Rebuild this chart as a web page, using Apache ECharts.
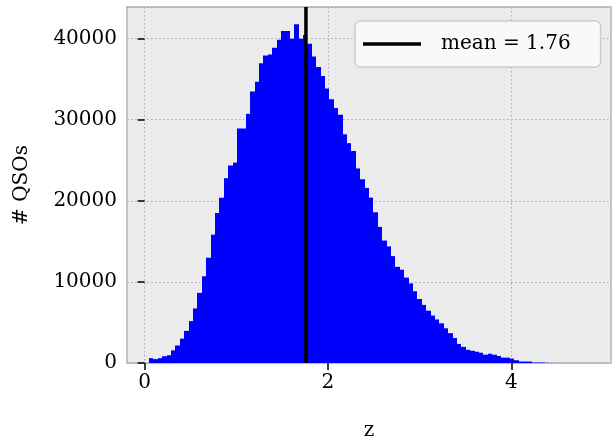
<!DOCTYPE html>
<html>
<head>
<meta charset="utf-8">
<script src="https://cdn.jsdelivr.net/npm/echarts@6/dist/echarts.min.js"></script>
<style>
  html, body { margin: 0; padding: 0; background: #ffffff; }
  #chart { width: 616px; height: 446px; }
</style>
</head>
<body>
<div id="chart"></div>
<script>
// histogram of redshift, 100 bins
const binStart = 0.048;
const binWidth = 0.048;
const counts = [
  600, 480, 600, 840, 960, 1560, 2160, 3000, 3960, 5170,
  6730, 8650, 10690, 12980, 15820, 18500, 20390, 22790, 24350, 24710,
  28920, 28920, 30720, 33480, 34680, 36970, 37930, 38050, 38890, 39850,
  40930, 40930, 39970, 41770, 39970, 40450, 39370, 37810, 36490, 35400,
  33840, 32520, 31440, 30600, 28200, 27110, 26150, 23990, 22670, 21590,
  20390, 18580, 16780, 15100, 14380, 13180, 11860, 11500, 10530, 9810,
  8850, 7890, 7170, 6450, 5850, 5370, 4890, 4280, 3680, 3075,
  2350, 1990, 1630, 1510, 1390, 1270, 1025, 1145, 1025, 865,
  660, 660, 540, 340, 180, 180, 180, 60, 60, 60,
  15, 10, 6, 4, 3, 2, 1, 1, 1, 1
];
const meanZ = 1.76;
const xTicks = [0, 2, 4];
const yMax = 43900;

const font = "DejaVu Serif";

const bins = counts.map((c, i) => [binStart + i * binWidth, binStart + (i + 1) * binWidth, c]);

const myChart = echarts.init(document.getElementById("chart"));

const option = {
  animation: false,
  grid: {
    left: 127,
    right: 5,
    top: 7,
    bottom: 75,
    show: true,
    backgroundColor: "#ebebeb",
    borderColor: "#c4c4c4",
    borderWidth: 2,
  },
  legend: {
    data: [{ name: "mean = " + meanZ.toFixed(2), icon: "rect" }],
    left: 355,
    top: 21,
    orient: "vertical",
    itemWidth: 58,
    itemHeight: 3.5,
    padding: [13, 30, 13, 8],
    backgroundColor: "rgba(250,250,250,0.92)",
    borderColor: "#cccccc",
    borderWidth: 1.5,
    borderRadius: 5,
    textStyle: {
      fontFamily: font,
      fontSize: 20,
      color: "#000",
      padding: [0, 0, 0, 15],
    },
  },
  xAxis: {
    type: "value",
    min: -0.192,
    max: 5.088,
    name: "z",
    nameLocation: "middle",
    nameGap: 58,
    nameTextStyle: { fontFamily: font, fontSize: 20, color: "#000" },
    axisLine: { show: false },
    axisTick: {
      customValues: xTicks,
      length: 7,
      lineStyle: { color: "#000", width: 1.5 },
    },
    axisLabel: {
      customValues: xTicks,
      margin: 10,
      fontFamily: font,
      fontSize: 20,
      color: "#000",
    },
    splitLine: {
      show: true,
      lineStyle: { color: "#a8a8a8", type: [1.5, 2.5], width: 1 },
    },
  },
  yAxis: {
    type: "value",
    min: 0,
    max: yMax,
    interval: 10000,
    name: "# QSOs",
    nameLocation: "middle",
    nameGap: 95,
    nameTextStyle: { fontFamily: font, fontSize: 20, color: "#000" },
    axisLine: { show: false },
    axisTick: {
      show: true,
      length: 7,
      lineStyle: { color: "#000", width: 1.5 },
    },
    axisLabel: {
      margin: 10,
      fontFamily: font,
      fontSize: 20,
      color: "#000",
      showMaxLabel: false,
      formatter: (v) => String(v),
    },
    splitLine: {
      show: true,
      lineStyle: { color: "#a8a8a8", type: [1.5, 2.5], width: 1 },
    },
  },
  series: [
    {
      name: "z",
      type: "custom",
      clip: true,
      encode: { x: [0, 1], y: 2 },
      data: bins,
      renderItem: function (params, api) {
        const top = api.coord([api.value(0), api.value(2)]);
        const bottom = api.coord([api.value(1), 0]);
        // snap x to whole pixels so neighbouring bars meet without seams
        const x0 = Math.round(top[0]);
        const x1 = Math.round(bottom[0]);
        return {
          type: "rect",
          shape: { x: x0, y: top[1], width: x1 - x0, height: bottom[1] - top[1] },
          style: { fill: "#0000ff" },
        };
      },
      z: 2,
    },
    {
      name: "mean = " + meanZ.toFixed(2),
      type: "line",
      data: [[meanZ, 0], [meanZ, yMax]],
      symbol: "none",
      lineStyle: { color: "#000", width: 3.5 },
      itemStyle: { color: "#000" },
      z: 3,
    },
  ],
};

myChart.setOption(option);
</script>
</body>
</html>
